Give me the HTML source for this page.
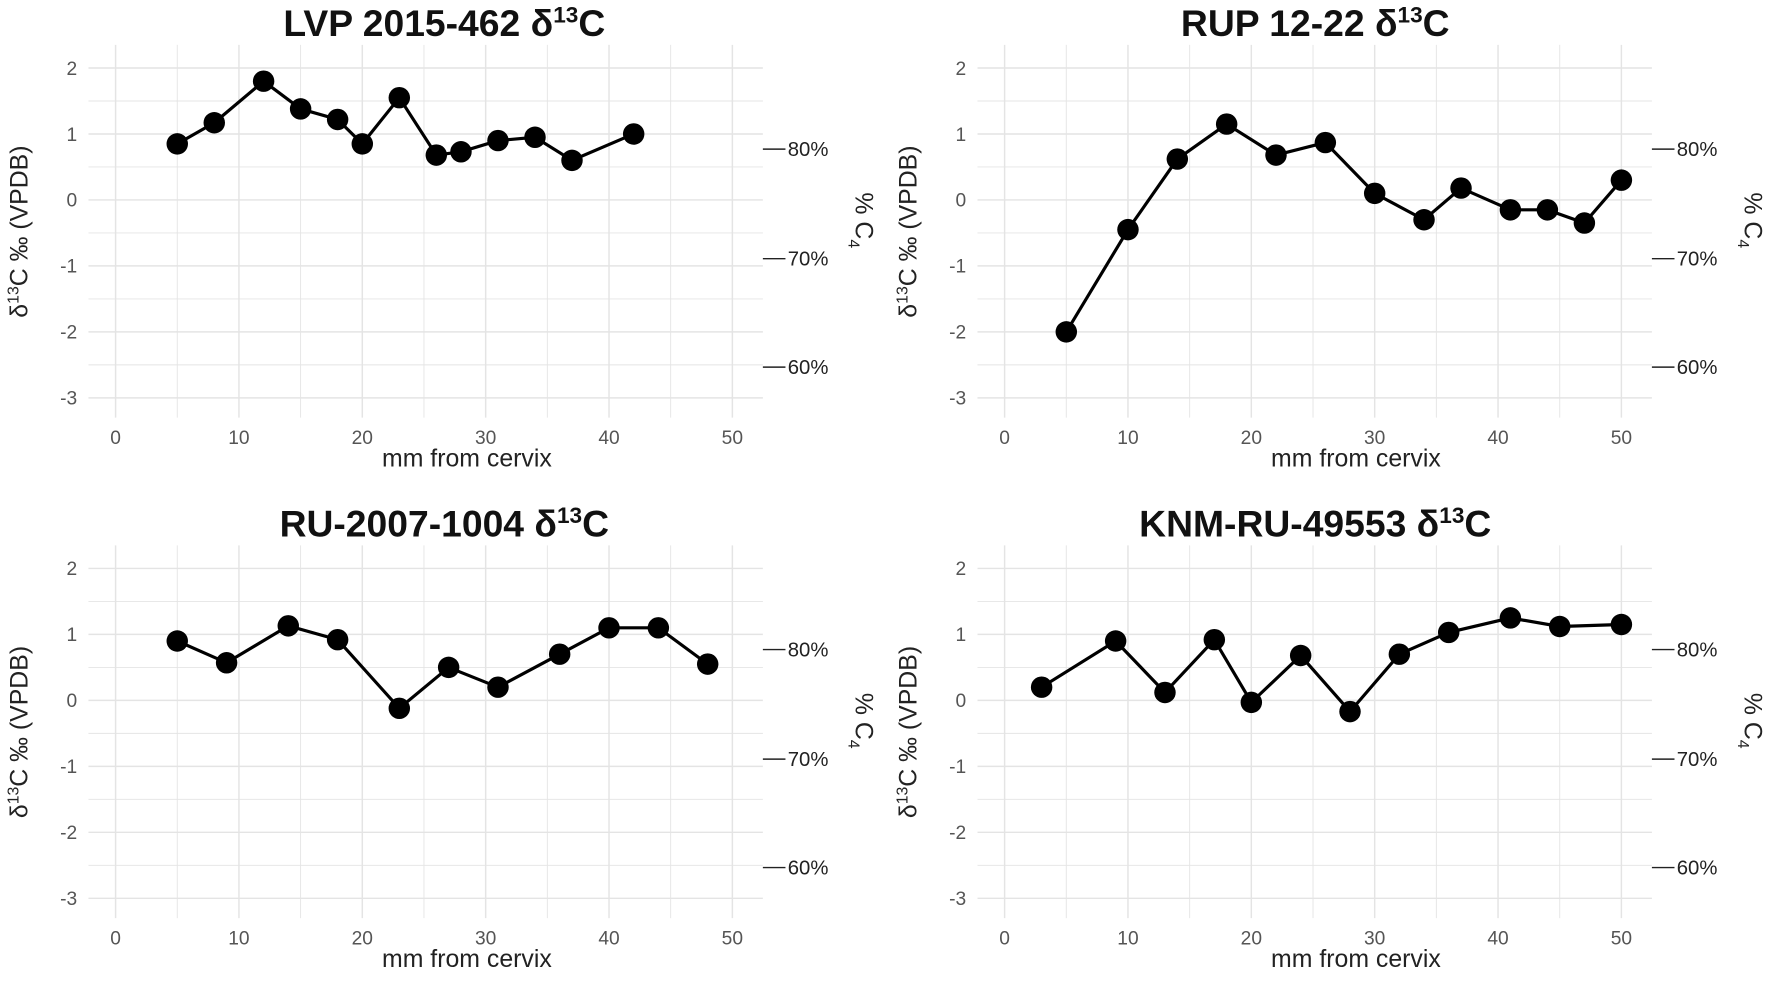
<!DOCTYPE html>
<html><head><meta charset="utf-8"><style>
html,body{margin:0;padding:0;background:#fff;}
svg{display:block}
.t{font-family:"Liberation Sans",sans-serif;font-weight:bold;font-size:33px;fill:#111}
.tk{font-family:"Liberation Sans",sans-serif;font-size:17px;fill:#555}
.lab{font-family:"Liberation Sans",sans-serif;font-size:22px;fill:#222}
.rt{font-family:"Liberation Sans",sans-serif;font-size:18px;fill:#222}
</style></head><body>
<svg id="s" width="1772" height="1002" viewBox="0 0 1568 887" xmlns="http://www.w3.org/2000/svg"></svg>
<script>
const S=document.getElementById('s');let h='';
const panels=[
 {x0:102,yo:0,title:'LVP 2015-462 δ',tc:397,rx:675,d:[[5,0.85],[8,1.17],[12,1.8],[15,1.38],[18,1.22],[20,0.85],[23,1.55],[26,0.68],[28,0.73],[31,0.9],[34,0.95],[37,0.6],[42,1.0]]},
 {x0:889,yo:0,title:'RUP 12-22 δ',tc:1168,rx:1462,d:[[5,-2],[10,-0.45],[14,0.62],[18,1.15],[22,0.68],[26,0.87],[30,0.1],[34,-0.3],[37,0.18],[41,-0.15],[44,-0.15],[47,-0.35],[50,0.3]]},
 {x0:102,yo:443,title:'RU-2007-1004 δ',tc:397,rx:675,d:[[5,0.9],[9,0.57],[14,1.13],[18,0.92],[23,-0.12],[27,0.5],[31,0.2],[36,0.7],[40,1.1],[44,1.1],[48,0.55]]},
 {x0:889,yo:443,title:'KNM-RU-49553 δ',tc:1168,rx:1462,d:[[3,0.2],[9,0.9],[13,0.12],[17,0.92],[20,-0.03],[24,0.68],[28,-0.17],[32,0.7],[36,1.03],[41,1.25],[45,1.12],[50,1.15]]}
];
panels.forEach(p=>{
 const xs=10.92,ys=58.4,y0=177+p.yo;
 const X=v=>p.x0+v*xs, Y=v=>y0-v*ys;
 const L=p.x0-24, R=p.rx;
 for(let v=-3;v<=2;v+=0.5){h+=`<line x1="${L}" x2="${R}" y1="${Y(v)}" y2="${Y(v)}" stroke="#e4e4e4" stroke-width="${v%1==0?1.3:0.8}"/>`;}
 for(let v=0;v<=50;v+=5){h+=`<line x1="${X(v)}" x2="${X(v)}" y1="${Y(2.35)}" y2="${Y(-3.3)}" stroke="#e4e4e4" stroke-width="${v%10==0?1.3:0.8}"/>`;}
 for(let v=-3;v<=2;v++){h+=`<text class="tk" x="${p.x0-34}" y="${Y(v)+6}" text-anchor="end">${v}</text>`;}
 for(let v=0;v<=50;v+=10){h+=`<text class="tk" x="${X(v)}" y="${y0+216}" text-anchor="middle">${v}</text>`;}
 h+=`<text class="lab" x="${X(25)+38}" y="${y0+236}" text-anchor="middle">mm from cervix</text>`;
 h+=`<text class="t" x="${p.tc-4}" y="${p.yo+32}" text-anchor="middle">${p.title}<tspan font-size="20" dy="-12">13</tspan><tspan dy="12">C</tspan></text>`;
 const ly=205+p.yo, lx=p.x0-78;
 h+=`<text class="lab" transform="translate(${lx},${ly}) rotate(-90)" text-anchor="middle">δ<tspan font-size="14" dy="-8">13</tspan><tspan dy="8">C ‰ (VPDB)</tspan></text>`;
 [[80,132],[70,229],[60,325]].forEach(([t,yy])=>{yy+=p.yo;h+=`<line x1="${R}" x2="${R+20}" y1="${yy}" y2="${yy}" stroke="#222" stroke-width="1.3"/><text class="rt" x="${R+22}" y="${yy+6}">${t}%</text>`;});
 h+=`<text class="lab" transform="translate(${R+82},${195+p.yo}) rotate(90)" text-anchor="middle">% C<tspan font-size="14" dy="6">4</tspan></text>`;
 h+=`<polyline fill="none" stroke="#000" stroke-width="2.8" points="${p.d.map(q=>X(q[0])+','+Y(q[1])).join(' ')}"/>`;
 p.d.forEach(q=>{h+=`<circle cx="${X(q[0])}" cy="${Y(q[1])}" r="9.5" fill="#000"/>`;});
});
S.innerHTML=h;
</script>
</body></html>
